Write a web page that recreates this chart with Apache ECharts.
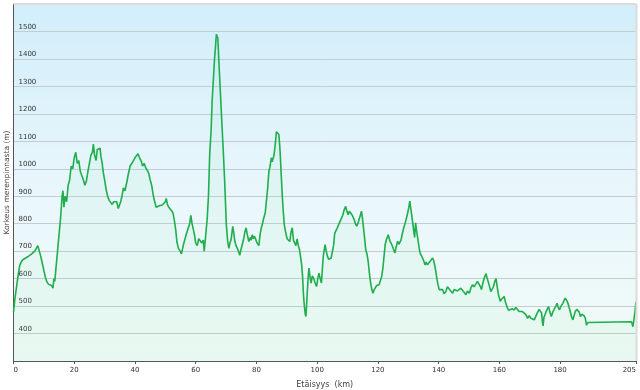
<!DOCTYPE html>
<html>
<head>
<meta charset="utf-8">
<script src="https://cdn.jsdelivr.net/npm/echarts@6/dist/echarts.min.js"></script>
<style>html,body{margin:0;padding:0;background:#fff}#c{width:640px;height:390px}</style>
</head>
<body>
<div id="c"></div>
<script>
var distKm = [0,0.5,1,1.5,2,2.5,3,3.5,4,4.5,5,5.5,6,6.5,7,7.5,8,8.5,9,9.5,10,10.5,11,11.5,12,12.5,13,13.3,13.6,14,14.5,15,15.5,16,16.3,16.6,17,17.5,18,18.5,19,19.5,20,20.5,21,21.5,22,22.5,23,23.5,24,24.5,25,25.5,26,26.3,26.7,27.2,27.6,28,28.5,28.8,29.2,29.6,30,30.5,31,31.5,32,32.5,33,33.5,34,34.5,34.9,35.3,35.7,36.2,36.7,37.3,37.8,38.4,39,39.5,40,40.5,41,41.5,42,42.5,43,43.5,44,44.5,45,45.5,46,46.5,47,47.5,48,48.5,49,49.5,50,50.3,50.7,51,51.5,52,52.5,53,53.4,53.8,54.3,54.9,55.3,55.7,56,56.5,57,57.5,58,58.4,58.8,59.2,59.6,60,60.5,61,61.5,62,62.5,62.8,63.2,63.8,64.2,64.6,65.1,65.4,65.8,66.2,66.5,66.8,67,67.3,67.6,67.9,68.3,68.7,69.1,69.5,70.1,70.5,70.9,71.3,71.7,72.2,72.5,72.9,73.3,73.7,74.1,74.5,74.9,75.3,75.8,76.2,76.6,77,77.5,78,78.3,78.6,79,79.3,79.7,80.2,80.8,81.2,81.6,82,82.4,82.9,83.3,83.7,84.1,84.5,84.9,85.2,85.5,85.8,86.2,86.6,87,87.4,87.7,87.9,88.2,88.5,88.8,89.2,89.6,90.1,90.5,91,91.4,91.8,92.2,92.5,93,93.4,93.8,94.1,94.4,94.9,95.2,95.5,95.8,96.1,96.3,96.6,97,97.3,97.6,98,98.4,98.9,99.3,99.8,100.2,100.6,101,101.4,102,102.6,103,103.4,103.8,104.2,104.6,105,105.4,105.8,106.2,106.6,107.2,107.8,108.4,108.9,109.4,109.8,110.2,110.6,111.1,111.6,112.2,112.6,113,113.4,113.8,114.2,114.6,114.9,115.2,115.6,116,116.4,116.8,117.2,117.6,118,118.4,118.8,119.2,119.6,120,120.4,120.9,121.3,121.7,122.1,122.4,122.9,123.4,124,124.4,124.8,125.2,125.6,126,126.5,126.9,127.2,127.6,128.1,128.5,129,129.4,129.8,130.2,130.5,130.9,131.2,131.5,131.9,132.1,132.4,132.8,133.2,133.6,133.9,134.3,134.7,135.1,135.5,135.9,136.3,136.7,137.2,137.6,138,138.4,138.8,139.1,139.4,139.8,140.2,140.7,141.3,141.8,142.4,142.9,143.5,144,144.6,145.1,145.7,146.2,146.8,147.3,147.9,148.4,149,149.5,150.1,150.6,151.2,151.7,152.3,152.8,153.4,153.8,154.1,154.6,155,155.6,156,156.3,156.8,157.2,157.7,158.1,158.5,158.9,159.3,159.6,160,160.3,160.7,161.1,161.6,162,162.5,163,163.6,164.2,164.9,165.4,166,166.5,167.1,167.6,168.2,168.7,169.3,169.8,170.4,171,171.5,172.1,172.7,173.1,173.5,173.9,174.2,174.4,174.7,175.1,175.4,175.8,176.2,176.6,177.1,177.6,178.2,178.6,179,179.4,179.8,180.3,180.9,181.3,181.7,182.2,182.6,183.1,183.5,183.8,184.2,184.6,185,185.5,185.9,186.3,186.7,187.1,187.5,187.9,188.3,188.7,189.1,203.5,204,204.3,204.6,205];
var elevM = [478,530,570,610,645,660,668,672,675,678,682,685,690,695,700,710,720,700,680,655,630,605,588,580,585,575,565,600,590,640,700,760,820,900,920,860,900,880,940,960,1010,1000,1040,1060,1020,1030,990,985,960,940,955,990,1020,1050,1060,1090,1050,1030,1070,1065,1075,1045,1020,985,960,925,900,885,890,870,880,875,880,855,850,880,900,930,920,950,980,1010,1020,1030,1040,1035,1055,1040,1030,1010,1020,1005,995,985,960,940,905,880,860,855,865,858,868,870,880,892,870,862,855,848,840,810,780,735,710,700,690,710,725,745,765,770,800,830,800,780,760,730,720,745,750,730,740,700,745,820,900,1050,1145,1245,1320,1400,1440,1490,1495,1475,1400,1330,1240,1150,1060,965,795,740,710,730,745,790,770,735,720,710,700,685,705,700,745,770,785,760,735,750,740,760,745,755,745,730,720,760,785,800,820,840,845,930,990,1010,1040,1025,1030,1050,1090,1135,1130,1125,1080,1040,970,905,850,795,770,745,740,735,770,785,740,735,720,745,720,710,690,650,608,540,498,470,462,520,600,638,610,584,610,600,585,571,600,620,600,584,681,724,700,681,670,663,675,681,720,766,775,784,800,815,830,851,863,845,833,845,851,830,815,800,791,800,815,830,845,820,791,750,705,690,663,620,584,560,547,560,566,575,572,578,584,610,644,690,724,745,760,736,728,718,705,693,715,736,725,718,740,766,785,803,820,839,860,882,875,827,800,766,750,803,770,742,710,693,685,681,665,650,660,650,655,663,670,675,665,644,625,602,578,560,565,560,545,553,570,566,555,547,560,566,555,553,565,560,550,541,555,547,565,578,570,572,590,584,570,560,585,602,618,600,590,570,553,560,572,590,600,570,547,530,517,525,523,535,515,498,485,480,490,486,495,492,480,474,480,486,470,455,465,456,460,450,465,480,488,492,475,440,428,460,470,480,490,498,480,462,478,492,500,510,495,486,500,510,520,529,520,510,490,474,460,450,465,480,488,492,478,462,470,474,465,456,431,440,443,425,450,474,516];
var xTicks = [0,20,40,60,80,100,120,140,160,180,205];
var yTicks = [400,500,600,700,800,900,1000,1100,1200,1300,1400,1500];
var xTitle = 'Etäisyys  (km)';
var yTitle = 'Korkeus merenpinnasta (m)';

var points = distKm.map(function (d, i) { return [d, elevM[i]]; });
var chart = echarts.init(document.getElementById('c'), null, {renderer: 'canvas'});
var font = 'Verdana, "DejaVu Sans", sans-serif';
chart.setOption({
  animation: false,
  grid: {
    left: 13.5, right: 4, top: 4, bottom: 29,
    containLabel: false,
    outerBoundsMode: 'none',
    show: true,
    borderWidth: 0,
    backgroundColor: new echarts.graphic.LinearGradient(0, 0, 0, 1, [
      {offset: 0, color: '#d1eefa'},
      {offset: 0.55, color: '#eaf7fc'},
      {offset: 1, color: '#f0fbf6'}
    ])
  },
  xAxis: {
    type: 'value', min: 0, max: 205, interval: 20,
    name: xTitle, nameLocation: 'middle', nameGap: 20, nameMoveOverlap: false,
    nameTextStyle: {fontFamily: font, fontSize: 8, color: '#444'},
    axisLine: {show: true, lineStyle: {color: '#555', width: 1}},
    axisTick: {show: true, length: 3, customValues: xTicks, lineStyle: {color: '#555'}},
    axisLabel: {customValues: xTicks, fontFamily: font, fontSize: 7, color: '#333', margin: 6,
      alignMinLabel: 'left', alignMaxLabel: 'right',
      formatter: function (v) { return String(v); }},
    splitLine: {show: false}
  },
  yAxis: {
    type: 'value', min: 300, max: 1600, interval: 100,
    name: yTitle, nameLocation: 'middle', nameGap: 2, nameMoveOverlap: false,
    nameTextStyle: {fontFamily: font, fontSize: 7.5, color: '#444'},
    axisLine: {show: true, lineStyle: {color: '#555', width: 1}},
    axisTick: {show: false},
    axisLabel: {inside: true, customValues: yTicks, fontFamily: font, fontSize: 7, color: '#333', margin: 5, verticalAlign: 'bottom', padding: [0,0,1,0],
      formatter: function (v) { return String(v); }},
    splitLine: {show: true, lineStyle: {color: '#c3ccd0', width: 1}}
  },
  graphic: [
    {type: 'line', shape: {x1: 13.5, y1: 4, x2: 636.5, y2: 4}, style: {stroke: '#dcdcdc', lineWidth: 2}, z: 10},
    {type: 'line', shape: {x1: 636.5, y1: 4, x2: 636.5, y2: 361}, style: {stroke: '#dcdcdc', lineWidth: 2}, z: 10}
  ],
  series: [{
    type: 'line',
    data: points,
    showSymbol: false,
    lineStyle: {color: '#1fae4c', width: 1.6},
    areaStyle: {color: 'rgba(120,220,160,0.1)'},
    z: 5
  }]
});
</script>
</body>
</html>
